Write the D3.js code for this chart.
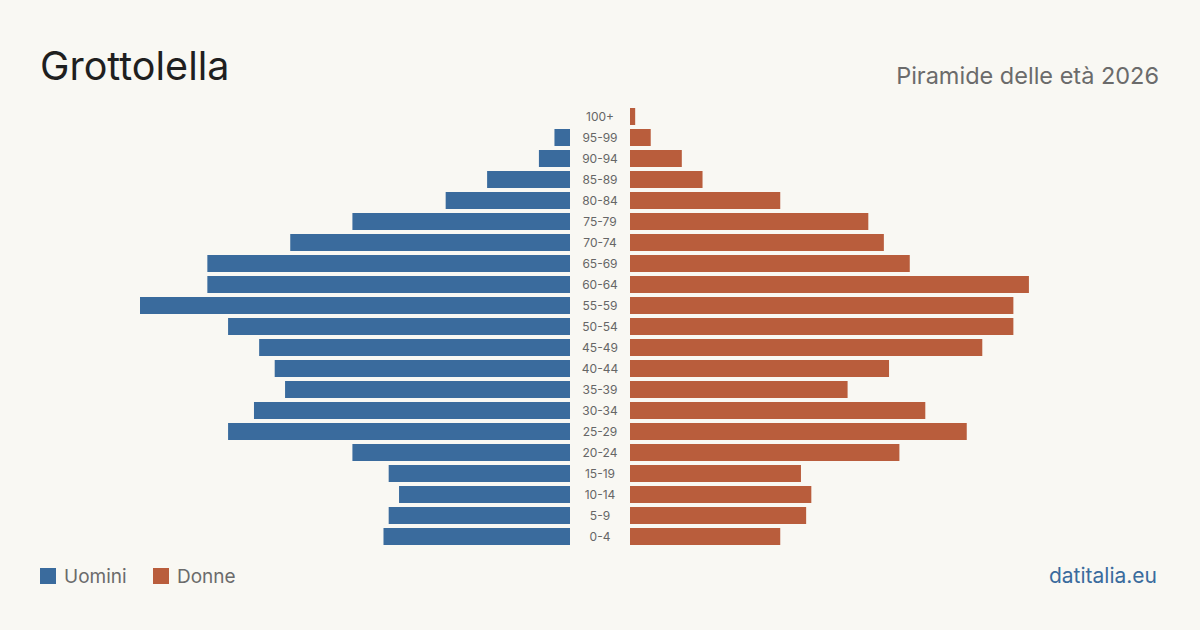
<!DOCTYPE html>
<html>
<head>
<meta charset="utf-8">
<script src="https://cdn.jsdelivr.net/npm/d3@7"></script>
<style>
  body { margin: 0; background: #f9f8f3; }
  svg { display: block; font-family: Inter, "Noto Sans", sans-serif; }
</style>
</head>
<body>
<svg id="chart" width="1200" height="630"></svg>
<script>
const ageGroups = ['100+', '95-99', '90-94', '85-89', '80-84', '75-79', '70-74', '65-69', '60-64', '55-59',
    '50-54', '45-49', '40-44', '35-39', '30-34', '25-29', '20-24', '15-19', '10-14', '5-9', '0-4'];
const men = [0, 3, 6, 16, 24, 42, 54, 70, 70, 83, 66, 60, 57, 55, 61, 66, 42, 35, 33, 35, 36];
const women = [1, 4, 10, 14, 29, 46, 49, 54, 77, 74, 74, 68, 50, 42, 57, 65, 52, 33, 35, 34, 29];

const blue = '#3a6b9d';
const orange = '#b95d3c';

const svg = d3.select('#chart');
const width = 1200;

svg.append('rect').attr('width', width).attr('height', 630).attr('fill', '#f9f8f3');

const maxVal = d3.max([...men, ...women]);
const xMen = d3.scaleLinear().domain([0, maxVal]).range([570, 140]);
const xWomen = d3.scaleLinear().domain([0, maxVal]).range([630, 1060]);
const y = d3.scaleBand().domain(ageGroups).range([108, 545]).paddingInner(4 / 21).paddingOuter(0);

const rows = ageGroups.map((g, i) => ({ g, m: men[i], w: women[i] }));

svg.append('g').selectAll('rect')
    .data(rows)
    .join('rect')
    .attr('x', d => xMen(d.m))
    .attr('y', d => y(d.g))
    .attr('width', d => xMen(0) - xMen(d.m))
    .attr('height', y.bandwidth())
    .attr('fill', blue);

svg.append('g').selectAll('rect')
    .data(rows)
    .join('rect')
    .attr('x', xWomen(0))
    .attr('y', d => y(d.g))
    .attr('width', d => xWomen(d.w) - xWomen(0))
    .attr('height', y.bandwidth())
    .attr('fill', orange);

svg.append('g').selectAll('text')
    .data(rows)
    .join('text')
    .attr('x', 600)
    .attr('y', d => y(d.g) + y.bandwidth() / 2)
    .attr('dy', '0.35em')
    .attr('text-anchor', 'middle')
    .attr('font-size', 12)
    .attr('fill', '#666')
    .text(d => d.g);

// titles
svg.append('text')
    .attr('x', 40).attr('y', 80)
    .attr('font-size', 39.5)
    .attr('fill', '#1f1f1f')
    .text('Grottolella');

svg.append('text')
    .attr('x', 1159).attr('y', 84)
    .attr('text-anchor', 'end')
    .attr('font-size', 23.5)
    .attr('fill', '#6b6b6b')
    .text('Piramide delle età 2026');

// legend
const legend = [{ label: 'Uomini', color: blue, x: 40 }, { label: 'Donne', color: orange, x: 153 }];
const lg = svg.append('g').selectAll('g').data(legend).join('g')
    .attr('transform', d => `translate(${d.x},568)`);
lg.append('rect').attr('width', 16).attr('height', 16).attr('fill', d => d.color);
lg.append('text')
    .attr('x', 24).attr('y', 15)
    .attr('font-size', 19)
    .attr('fill', '#6b6b6b')
    .text(d => d.label);

svg.append('text')
    .attr('x', 1157).attr('y', 583)
    .attr('text-anchor', 'end')
    .attr('font-size', 21)
    .attr('fill', blue)
    .text('datitalia.eu');
</script>
</body>
</html>
